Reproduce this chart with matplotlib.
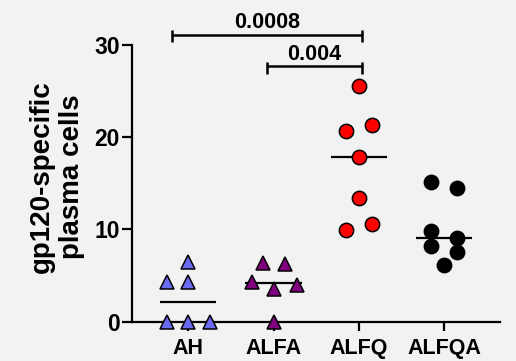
import numpy as np
import matplotlib
matplotlib.use("Agg")
import matplotlib.pyplot as plt

plt.rcParams['font.family'] = ['Liberation Sans', 'DejaVu Sans']
plt.rcParams['font.weight'] = 'bold'

# Groups and per-animal values
groups = ["AH", "ALFA", "ALFQ", "ALFQA"]
ah_vals = [0, 0, 0, 4.3, 4.3, 6.5]
alfa_vals = [0, 3.5, 4.0, 4.3, 6.3, 6.4]
alfq_vals = [9.9, 10.6, 13.4, 17.9, 20.7, 21.3, 25.6]
alfqa_vals = [6.1, 7.6, 8.2, 9.1, 9.8, 14.5, 15.2]

# horizontal scatter offsets so points don't overlap
ah_jit = [-0.25, 0.0, 0.26, -0.25, 0.0, 0.0]
alfa_jit = [0.0, 0.0, 0.27, -0.25, 0.14, -0.12]
alfq_jit = [-0.15, 0.15, 0.0, 0.0, -0.15, 0.15, 0.0]
alfqa_jit = [0.0, 0.15, -0.15, 0.15, -0.15, 0.15, -0.15]

# p-value brackets: (start, end, height, label)
brackets = [(-0.19, 2.04, 31.1, "0.0008"),
            (0.92, 2.04, 27.7, "0.004")]

values = [ah_vals, alfa_vals, alfq_vals, alfqa_vals]
jitters = [ah_jit, alfa_jit, alfq_jit, alfqa_jit]
markers = ["^", "^", "o", "o"]
colors = ["#6b6bf2", "#800080", "#ff0000", "#000000"]
msizes = [10.3, 10.3, 10.3, 10.3]

bg = "#f2f2f2"
fig = plt.figure(figsize=(5.16, 3.61), dpi=100, facecolor=bg)
ax = fig.add_axes([0.2552, 0.1089, 0.969 - 0.2552, 0.8753 - 0.1089])
ax.set_facecolor(bg)

for i, (vals, jit, m, c, ms) in enumerate(zip(values, jitters, markers, colors, msizes)):
    xs = i + np.array(jit)
    med = np.median(vals)
    ax.plot([i - 0.33, i + 0.33], [med, med], color="black", lw=1.6,
            solid_capstyle="butt", zorder=2, clip_on=False)
    ax.plot(xs, vals, linestyle="none", marker=m, markersize=ms,
            markerfacecolor=c, markeredgecolor="black", markeredgewidth=1.1,
            zorder=3, clip_on=False)

for x0, x1, h, lab in brackets:
    ax.plot([x0, x1], [h, h], color="black", lw=1.8, clip_on=False,
            solid_capstyle="butt")
    for xe in (x0, x1):
        ax.plot([xe, xe], [h + 0.5, h - 0.8], color="black", lw=1.8,
                clip_on=False, solid_capstyle="butt")
    ax.text((x0 + x1) / 2, h + 0.7, lab, ha="center", va="baseline",
            fontsize=15.5, fontweight="bold", clip_on=False)

ax.set_xlim(-0.664, 3.657)
ax.set_ylim(0, 30)
ax.set_yticks([0, 10, 20, 30])
ax.set_xticks(range(len(groups)))
ax.set_xticklabels(groups)

for s in ("top", "right"):
    ax.spines[s].set_visible(False)
for s in ("left", "bottom"):
    ax.spines[s].set_linewidth(1.6)

ax.tick_params(axis="y", length=7, width=1.6, labelsize=16.5, pad=1.5)
ax.tick_params(axis="x", length=6.5, width=1.6, labelsize=15.5, pad=5)
for lbl in ax.get_xticklabels() + ax.get_yticklabels():
    lbl.set_fontweight("bold")

fig.text(0.110, 0.511, "gp120-specific\nplasma cells", rotation=90,
         ha="center", va="center", fontsize=20, fontweight="bold",
         multialignment="center")

fig.savefig("out.png", dpi=100, facecolor=bg)
